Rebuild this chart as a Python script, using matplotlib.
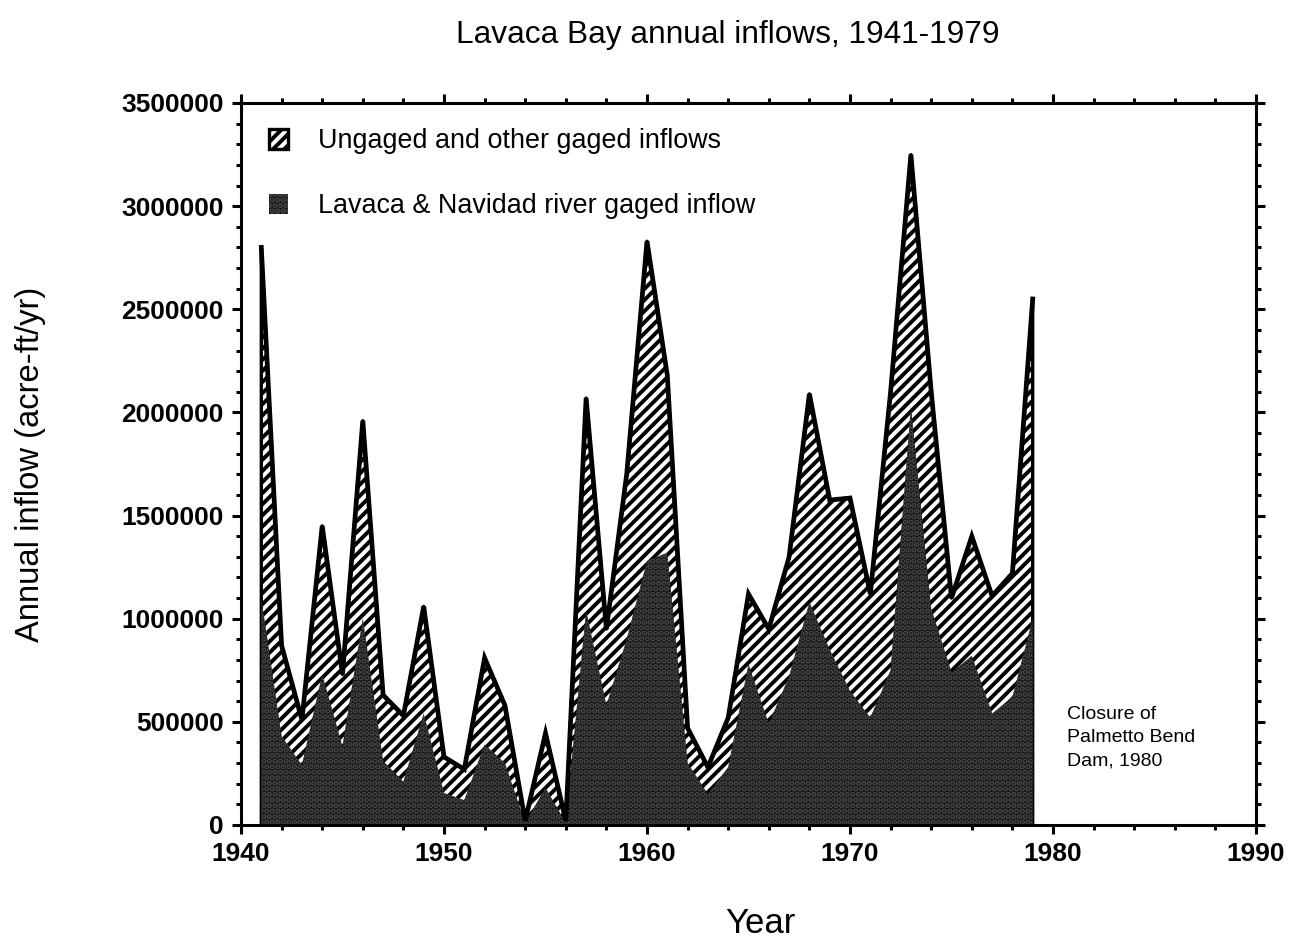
import numpy as np
import matplotlib
matplotlib.use("Agg")
import matplotlib.pyplot as plt
from matplotlib.ticker import MultipleLocator

plt.rcParams['font.family'] = ['Liberation Sans', 'DejaVu Sans']

# annual inflows, acre-ft/yr
years = np.arange(1941, 1980)
total = [2800000, 870000, 510000, 1450000, 730000, 1960000, 630000, 530000,
         1060000, 330000, 270000, 810000, 580000, 20000, 445000, 20000,
         2070000, 950000, 1700000, 2830000, 2180000, 470000, 280000, 520000,
         1120000, 950000, 1300000, 2090000, 1575000, 1585000, 1120000,
         2100000, 3250000, 2100000, 1100000, 1400000, 1110000, 1220000,
         2550000]
gaged = [1100000, 430000, 290000, 730000, 380000, 1000000, 310000, 210000,
         540000, 155000, 120000, 390000, 300000, 10000, 180000, 10000,
         1040000, 580000, 900000, 1280000, 1320000, 300000, 150000, 280000,
         780000, 490000, 720000, 1080000, 850000, 650000, 520000,
         750000, 2030000, 1050000, 740000, 820000, 540000, 620000,
         1000000]

fig = plt.figure(figsize=(6.53, 4.72), dpi=200)
ax = fig.add_axes([241/1306, 1 - 825/944, 1015/1306, 722/944])

plt.rcParams['hatch.linewidth'] = 1.4
ungaged = ax.fill_between(years, 0, total, facecolor='white', edgecolor='black',
                          hatch='//////', linewidth=1.2,
                          label='Ungaged and other gaged inflows')
river = ax.fill_between(years, 0, gaged, facecolor='#161616', edgecolor='#4a4a4a',
                        hatch='......', linewidth=0,
                        label='Lavaca & Navidad river gaged inflow')
ax.plot(years, total, color='black', linewidth=1.7, solid_joinstyle='miter')

ax.set_xlim(1940, 1990)
ax.set_ylim(0, 3500000)
ax.xaxis.set_major_locator(MultipleLocator(10))
ax.xaxis.set_minor_locator(MultipleLocator(2))
ax.yaxis.set_major_locator(MultipleLocator(500000))
ax.yaxis.set_minor_locator(MultipleLocator(100000))
ax.ticklabel_format(axis='y', style='plain', useOffset=False)
ax.tick_params(which='both', direction='out', top=True, right=True, width=1.1)
ax.tick_params(which='major', length=3.2, labelsize=9.5, pad=3)
ax.tick_params(which='minor', length=1.8)
for lab in ax.get_xticklabels() + ax.get_yticklabels():
    lab.set_fontweight('bold')
for sp in ax.spines.values():
    sp.set_linewidth(1.1)

ax.set_xlabel('Year', fontsize=12.5)
ax.xaxis.set_label_coords(0.512, -0.113)
ax.set_ylabel('Annual inflow (acre-ft/yr)', fontsize=11.8)
ax.yaxis.set_label_coords(-0.192, 0.5)
fig.text(0.557, 1 - 20/944, 'Lavaca Bay annual inflows, 1941-1979',
         ha='center', va='top', fontsize=11.4)

ax.text(1980.7, 575000, 'Closure of\nPalmetto Bend\nDam, 1980',
        ha='left', va='top', fontsize=7, linespacing=1.45)

ax.legend(handles=[ungaged, river], loc='upper left', bbox_to_anchor=(0.028, 0.965),
          frameon=False, fontsize=9.7, handlelength=0.7, handleheight=0.75,
          handletextpad=1.1, labelspacing=1.45, borderpad=0, borderaxespad=0)

fig.savefig('out.png', dpi=200)
